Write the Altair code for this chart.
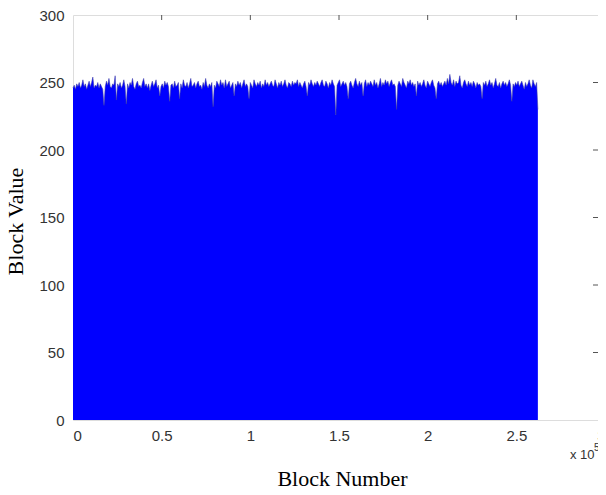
import altair as alt
import numpy as np
import pandas as pd

# Upper envelope of the block values (left to right)
block_values = [
    246, 248, 245, 249, 247, 250, 246, 248, 252, 247, 249, 245, 248, 251, 247, 250, 254, 246, 248, 247,
    250, 246, 249, 247, 245, 233, 247, 251, 248, 253, 247, 246, 249, 248, 255, 237, 249, 247, 250, 246,
    248, 252, 247, 234, 249, 246, 250, 248, 253, 247, 245, 249, 251, 247, 248, 246, 250, 253, 247, 249,
    246, 249, 244, 248, 251, 247, 249, 252, 246, 248, 240, 247, 249, 246, 251, 248, 250, 247, 236, 248,
    249, 246, 251, 247, 248, 250, 238, 249, 246, 252, 248, 247, 250, 246, 249, 253, 247, 248, 250, 246,
    249, 251, 247, 248, 245, 250, 247, 253, 248, 246, 249, 247, 250, 232, 248, 246, 251, 249, 247, 252,
    248, 250, 246, 252, 247, 249, 251, 246, 248, 250, 240, 249, 247, 251, 248, 250, 246, 249, 252, 247,
    249, 247, 238, 250, 248, 246, 252, 249, 247, 250, 248, 251, 246, 249, 247, 252, 248, 250, 247, 249,
    251, 248, 247, 252, 249, 246, 250, 248, 251, 247, 249, 252, 248, 246, 250, 249, 247, 251, 248, 250,
    249, 252, 247, 250, 248, 246, 249, 251, 247, 240, 250, 248, 252, 249, 247, 250, 248, 251, 249, 247,
    250, 252, 248, 247, 251, 249, 246, 250, 248, 252, 249, 247, 226, 248, 250, 252, 247, 249, 251, 248,
    250, 247, 238, 249, 251, 248, 246, 250, 253, 249, 247, 251, 248, 250, 240, 249, 252, 247, 250, 248,
    251, 249, 247, 252, 248, 250, 246, 249, 253, 247, 250, 248, 252, 249, 251, 247, 250, 252, 248, 249,
    247, 230, 248, 251, 249, 247, 253, 250, 248, 246, 251, 249, 252, 248, 250, 247, 249, 240, 251, 248,
    250, 247, 249, 252, 248, 246, 251, 249, 247, 250, 252, 248, 246, 238, 249, 251, 248, 250, 247, 249,
    251, 248, 253, 249, 256, 250, 248, 252, 247, 251, 249, 250, 255, 248, 246, 250, 252, 249, 247, 251,
    248, 250, 247, 251, 249, 246, 250, 248, 249, 247, 238, 250, 248, 251, 247, 249, 252, 248, 250, 246,
    249, 253, 248, 247, 250, 246, 249, 251, 248, 250, 247, 249, 252, 248, 236, 249, 247, 250, 248, 251,
    247, 249, 251, 248, 245, 250, 247, 249, 252, 248, 246, 252, 249, 247, 250, 230,
]
first_block = 1
last_block = 262144
x_ticks = [0, 50000, 100000, 150000, 200000, 250000, 300000]
y_ticks = [0, 50, 100, 150, 200, 250, 300]

blocks = np.linspace(first_block, last_block, len(block_values))
df = pd.DataFrame({"block": blocks, "value": block_values})

W, H = 525, 405
XR = 532  # full axis length of the original plot (right part falls outside the page)
xs = alt.Scale(domain=[0, 300000], range=[0, XR], nice=False, zero=False)
ys = alt.Scale(domain=[0, 300], nice=False)

x_axis = alt.Axis(
    values=x_ticks, labelExpr="'' + datum.value / 100000", title="Block Number",
    grid=False, ticks=False, tickSize=0, domain=False, labelPadding=8,
    labelFont="Liberation Sans", labelFontSize=15, labelColor="#333333",
    titleFont="Liberation Serif", titleFontSize=22, titleFontWeight="normal",
    titleColor="#000000", titleX=269, titleY=65, titleAlign="center",
    titleBaseline="alphabetic",
)
y_axis = alt.Axis(
    values=y_ticks, title="Block  Value",
    grid=False, ticks=False, tickSize=0, domain=False, labelPadding=9,
    labelFont="Liberation Sans", labelFontSize=15, labelColor="#333333",
    titleFont="Liberation Serif", titleFontSize=22, titleFontWeight="normal",
    titleColor="#000000", titleX=-58, titleY=206, titleAlign="center",
    titleBaseline="middle", titleAngle=270,
)

area = alt.Chart(df).mark_area(color="#0000ff", interpolate="linear").encode(
    x=alt.X("block:Q", scale=xs, axis=x_axis),
    y=alt.Y("value:Q", scale=ys, axis=y_axis),
)
edge = alt.Chart(df).mark_line(color="#3c3ca8", strokeWidth=0.7, opacity=0.8).encode(
    x=alt.X("block:Q", scale=xs),
    y=alt.Y("value:Q", scale=ys),
)

# inward tick marks on top and right borders (MATLAB style)
top_df = pd.DataFrame({"t": x_ticks[1:-1]})
top_ticks = alt.Chart(top_df).mark_rule(color="#555555", strokeWidth=1).encode(
    x=alt.X("t:Q", scale=xs),
    y=alt.value(0),
    y2=alt.value(5),
)
right_df = pd.DataFrame({"t": y_ticks[1:-1]})
right_ticks = alt.Chart(right_df).mark_rule(color="#555555", strokeWidth=1).encode(
    y=alt.Y("t:Q", scale=ys),
    x=alt.value(W - 5),
    x2=alt.value(W),
)

exp_base = alt.Chart(pd.DataFrame({"s": ["x 10"]})).mark_text(
    font="Liberation Sans", fontSize=13, color="#333333", align="left", baseline="middle"
).encode(text="s:N", x=alt.value(497), y=alt.value(H + 35))
exp_sup = alt.Chart(pd.DataFrame({"s": ["5"]})).mark_text(
    font="Liberation Sans", fontSize=10, color="#333333", align="left", baseline="middle"
).encode(text="s:N", x=alt.value(521), y=alt.value(H + 28))

chart = alt.layer(area, edge, top_ticks, right_ticks, exp_base, exp_sup).properties(
    width=W, height=H,
    autosize=alt.AutoSizeParams(type="none"),
    padding={"left": 65, "top": 7, "right": 0, "bottom": 66},
).configure_view(stroke="#444444", strokeWidth=1).configure(background="#ffffff")

chart.save("out.html", embed_options={"renderer": "svg", "actions": False})
